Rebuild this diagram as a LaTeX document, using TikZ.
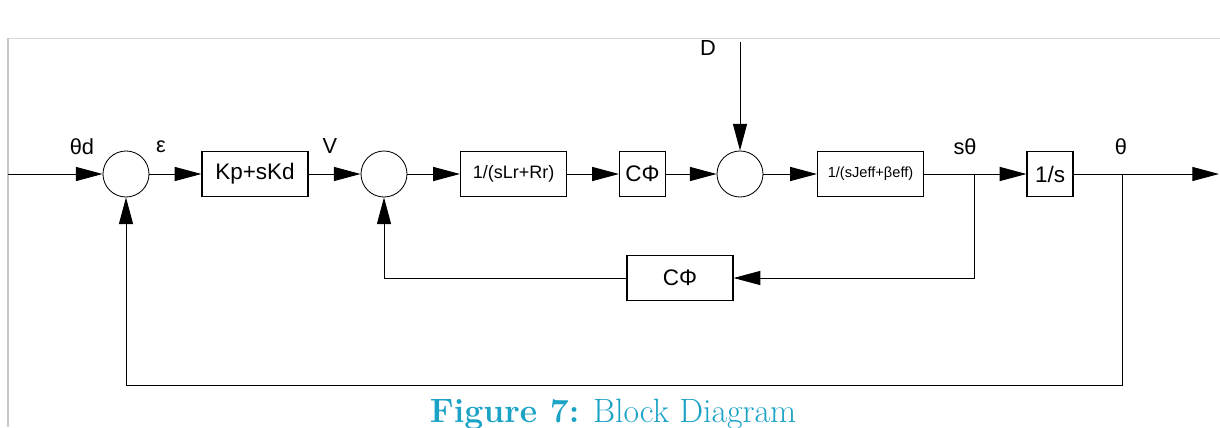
\documentclass[tikz,border=0pt]{standalone}
\usepackage{fontspec}
\newfontfamily\arialfont{Liberation Sans}
\usetikzlibrary{arrows.meta}
\definecolor{capblue}{HTML}{1BA3C6}

\begin{document}
\begin{tikzpicture}[
  x=0.025cm, y=-0.025cm,
  font=\arialfont\fontsize{16}{19}\selectfont,
  blk/.style={draw, fill=white, rectangle, line width=0.8pt,
              minimum width=2.65cm, minimum height=1.125cm, align=center, inner sep=1pt},
  sblk/.style={blk, minimum width=1.15cm},
  sum/.style={draw, circle, line width=0.6pt, minimum size=1.15cm, inner sep=0pt},
  arr/.style={-{Triangle[length=19pt,width=10pt]}, line width=0.7pt},
  sig/.style={font=\arialfont\fontsize{15.5}{18}\selectfont, inner sep=0pt},
]
  \useasboundingbox (0,0) rectangle (1220,427);
  \def\yM{174}   % main path
  \def\yF{278}   % inner feedback
  \def\yO{385}   % outer feedback

  % --- Page frame fragment ---
  \draw[black!15, line width=0.6pt] (8,38) -- (1220,38);
  \draw[black!22, line width=0.8pt] (8,38) -- (8,427);

  % --- Forward path ---
  \node[sum] (s1) at (126,\yM) {};
  \node[blk] (kp) at (255,\yM) {Kp+sKd};
  \node[sum] (s2) at (384,\yM) {};
  \node[blk] (ga) at (513.5,\yM) {\fontsize{12.8}{15}\selectfont 1/(sLr+Rr)};
  \node[sblk] (cf) at (642.5,\yM) {CΦ};
  \node[sum] (s3) at (740,\yM) {};
  \node[blk] (gb) at (870.5,\yM) {\fontsize{10.4}{12}\selectfont 1/(sJeff+βeff)};
  \node[sblk] (in) at (1050,\yM) {1/s};

  % --- Feedback block ---
  \node[blk] (cb) at (680,\yF) {CΦ};

  % --- Free ends and branch points ---
  \coordinate (xin) at (8,\yM);
  \coordinate (xout) at (1219,\yM);
  \coordinate (dtop) at (740,42);
  \coordinate (ba) at (974,\yM);
  \coordinate (bb) at (1122,\yM);

  % --- Signal labels ---
  \node[sig] (lth) at (82,147) {θd};
  \node[sig] (lep) at (161,147) {ε};
  \node[sig] (lv) at (330,146) {V};
  \node[sig] (lst) at (965,147) {sθ};
  \node[sig] (lt) at (1121,147) {θ};
  \node[sig] (ld) at (708,48) {D};

  % --- Connectors ---
  \draw[arr] (xin) -- (s1);
  \draw[arr] (s1) -- (kp);
  \draw[arr] (kp) -- (s2);
  \draw[arr] (s2) -- (ga);
  \draw[arr] (ga) -- (cf);
  \draw[arr] (cf) -- (s3);
  \draw[arr] (dtop) -- (s3);
  \draw[arr] (s3) -- (gb);
  \draw[arr] (gb) -- (in);
  \draw[arr] (in) -- (xout);

  % inner loop
  \draw[arr] (ba) |- (cb);
  \draw[arr] (cb) -| (s2);

  % outer loop
  \draw[arr] (bb) -- (1122,\yO) -| (s1);

  % --- Caption ---
  \node[font=\fontsize{24}{28}\selectfont, text=capblue, anchor=base, inner sep=0pt]
    (cap) at (613,422) {\textbf{Figure 7:} Block Diagram};

\end{tikzpicture}
\end{document}
